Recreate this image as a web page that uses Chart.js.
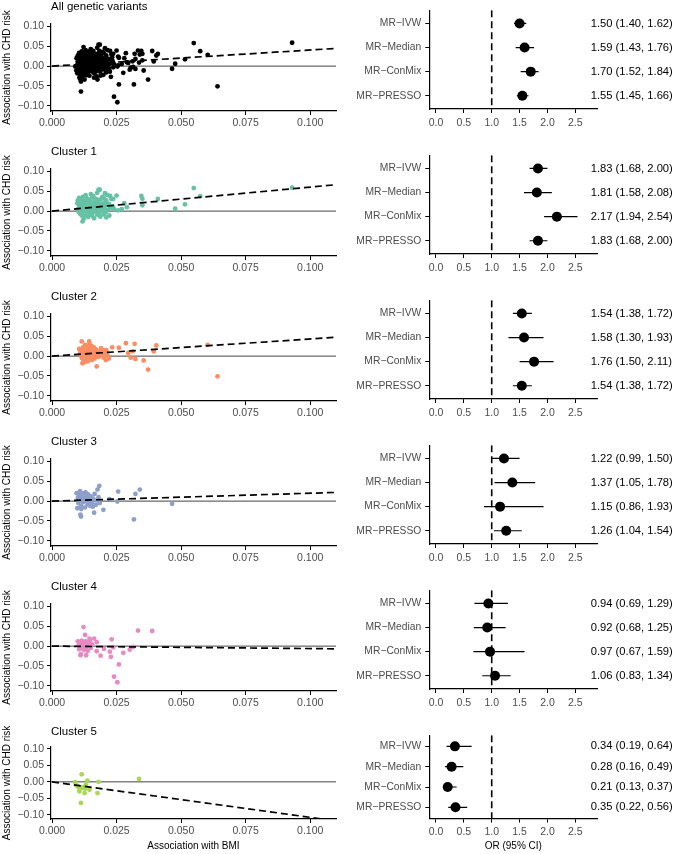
<!DOCTYPE html>
<html>
<head>
<meta charset="utf-8">
<script src="https://cdn.jsdelivr.net/npm/chart.js@4.4.1/dist/chart.umd.min.js"></script>
<style>
  html, body { margin: 0; padding: 0; background: #fff; }
  #wrap { position: relative; width: 680px; height: 854px; }
  #wrap canvas { position: absolute; }
</style>
</head>
<body>
<div id="wrap"></div>
<script>
const panelTitles = ["All genetic variants", "Cluster 1", "Cluster 2", "Cluster 3", "Cluster 4", "Cluster 5"];
const clusterColors = ["#66c2a5", "#fc8d62", "#8da0cb", "#e78ac3", "#a6d854"];
const methods = ["MR\u2212IVW", "MR\u2212Median", "MR\u2212ConMix", "MR\u2212PRESSO"];

// OR (95% CI) per panel, methods in the order above
const orEst = [
  [1.50, 1.59, 1.70, 1.55],
  [1.83, 1.81, 2.17, 1.83],
  [1.54, 1.58, 1.76, 1.54],
  [1.22, 1.37, 1.15, 1.26],
  [0.94, 0.92, 0.97, 1.06],
  [0.34, 0.28, 0.21, 0.35],
];
const orLow = [
  [1.40, 1.43, 1.52, 1.45],
  [1.68, 1.58, 1.94, 1.68],
  [1.38, 1.30, 1.50, 1.38],
  [0.99, 1.05, 0.86, 1.04],
  [0.69, 0.68, 0.67, 0.83],
  [0.19, 0.16, 0.13, 0.22],
];
const orHigh = [
  [1.62, 1.76, 1.84, 1.66],
  [2.00, 2.08, 2.54, 2.00],
  [1.72, 1.93, 2.11, 1.72],
  [1.50, 1.78, 1.93, 1.54],
  [1.29, 1.25, 1.59, 1.34],
  [0.64, 0.49, 0.37, 0.56],
];

// variant associations [BMI, CHD]
const cluster1 = [
  [0.093, 0.0588], [0.0549, 0.058], [0.0574, 0.0375], [0.0515, 0.017], [0.0477, 0.006],
  [0.041, 0.0307], [0.0346, 0.038], [0.035, 0.031], [0.035, 0.0145], [0.028, 0.020],
  [0.029, 0.010], [0.027, 0.005], [0.0256, 0.002], [0.025, 0.039], [0.0237, 0.031],
  [0.0205, 0.045], [0.018, 0.054], [0.0118, -0.026],
  [0.0185, 0.054], [0.0175, 0.046], [0.0150, 0.043], [0.0130, 0.040], [0.0215, 0.040],
  [0.0225, 0.038], [0.0160, 0.038], [0.0120, 0.036], [0.0195, 0.036],
  [0.0105, 0.033], [0.0115, 0.030], [0.0135, 0.032], [0.0145, 0.029], [0.0155, 0.034],
  [0.0170, 0.031], [0.0180, 0.028], [0.0190, 0.030], [0.0200, 0.033], [0.0210, 0.027],
  [0.0230, 0.030], [0.0125, 0.026], [0.0140, 0.025], [0.0165, 0.026], [0.0100, 0.027],
  [0.0098, 0.020], [0.0105, 0.015], [0.0110, 0.022], [0.0112, 0.012], [0.0118, 0.018],
  [0.0122, 0.010], [0.0128, 0.021], [0.0132, 0.015], [0.0138, 0.019], [0.0142, 0.011],
  [0.0148, 0.023], [0.0152, 0.016], [0.0158, 0.013], [0.0162, 0.020], [0.0168, 0.017],
  [0.0172, 0.010], [0.0178, 0.022], [0.0185, 0.014], [0.0192, 0.019], [0.0198, 0.012],
  [0.0205, 0.021], [0.0212, 0.015], [0.0220, 0.018], [0.0235, 0.012], [0.0108, 0.024],
  [0.0126, 0.013],
  [0.0100, 0.005], [0.0103, -0.002], [0.0108, 0.008], [0.0113, 0.002], [0.0117, -0.004],
  [0.0121, 0.006], [0.0125, 0.000], [0.0130, 0.008], [0.0135, 0.003], [0.0139, -0.003],
  [0.0144, 0.006], [0.0150, 0.001], [0.0155, 0.008], [0.0160, -0.002], [0.0166, 0.005],
  [0.0171, 0.000], [0.0177, 0.007], [0.0183, -0.004], [0.0188, 0.004], [0.0195, 0.001],
  [0.0202, 0.006], [0.0208, -0.003], [0.0215, 0.003], [0.0225, 0.007], [0.0240, 0.005],
  [0.0110, -0.008], [0.0118, -0.013], [0.0123, -0.019], [0.0132, -0.010], [0.0140, -0.015],
  [0.0147, -0.007], [0.0156, -0.012], [0.0163, -0.018], [0.0175, -0.009], [0.0187, -0.014],
  [0.0200, -0.008], [0.0210, -0.016], [0.0222, -0.011],
];
const cluster2 = [
  [0.0603, 0.0283], [0.0641, -0.051], [0.0404, 0.0267], [0.0394, 0.0117], [0.0372, -0.034],
  [0.0355, -0.011], [0.032, 0.031], [0.0286, 0.0325], [0.0312, 0.012], [0.0323, -0.007],
  [0.0305, -0.004], [0.0295, 0.008], [0.0259, 0.021], [0.0233, 0.022], [0.0173, -0.026],
  [0.0144, 0.037], [0.0115, 0.037],
  [0.0105, 0.018], [0.0110, 0.010], [0.0112, 0.003], [0.0115, -0.005], [0.0118, 0.014],
  [0.0120, 0.022], [0.0122, -0.012], [0.0125, 0.007], [0.0128, 0.028], [0.0130, 0.000],
  [0.0132, 0.016], [0.0135, -0.008], [0.0137, 0.024], [0.0140, 0.010], [0.0142, 0.003],
  [0.0145, 0.030], [0.0147, -0.003], [0.0150, 0.018], [0.0152, 0.008], [0.0155, -0.010],
  [0.0157, 0.013], [0.0160, 0.002], [0.0162, 0.022], [0.0165, -0.006], [0.0168, 0.011],
  [0.0170, 0.017], [0.0175, 0.004], [0.0180, -0.002], [0.0185, 0.012], [0.0190, 0.020],
  [0.0195, 0.006], [0.0200, -0.004], [0.0205, 0.009], [0.0210, 0.015], [0.0215, 0.002],
  [0.0220, -0.006], [0.0118, -0.018], [0.0127, -0.015], [0.0138, -0.013], [0.0108, 0.005],
  [0.0133, 0.012], [0.0143, 0.019], [0.0148, 0.005], [0.0153, 0.026], [0.0124, 0.015],
  [0.0116, 0.008], [0.0158, -0.001], [0.0188, 0.002], [0.0198, 0.015], [0.0208, -0.010],
  [0.0212, 0.006],
];
const cluster3 = [
  [0.0465, -0.0067], [0.034, 0.029], [0.0323, 0.018], [0.0317, -0.046], [0.0256, 0.024],
  [0.0253, -0.001], [0.0222, 0.005], [0.0199, -0.022], [0.0183, 0.038], [0.0176, 0.029],
  [0.0163, -0.029], [0.0112, -0.039], [0.011, -0.034],
  [0.0095, 0.020], [0.0100, 0.008], [0.0102, -0.005], [0.0105, 0.015], [0.0108, 0.025],
  [0.0110, 0.002], [0.0112, -0.012], [0.0115, 0.010], [0.0118, 0.020], [0.0120, -0.003],
  [0.0122, 0.005], [0.0125, 0.014], [0.0128, -0.016], [0.0130, 0.022], [0.0132, 0.000],
  [0.0135, 0.008], [0.0138, -0.008], [0.0140, 0.017], [0.0145, 0.003], [0.0148, -0.012],
  [0.0150, 0.012], [0.0155, -0.004], [0.0160, 0.006], [0.0165, 0.018], [0.0170, -0.009],
  [0.0175, 0.002], [0.0180, 0.010], [0.0098, -0.018], [0.0113, -0.020], [0.0142, -0.002],
  [0.0158, -0.014], [0.0185, -0.005], [0.0103, 0.000], [0.0127, 0.004],
];
const cluster4 = [
  [0.0388, 0.038], [0.0333, 0.039], [0.0301, -0.009], [0.0314, -0.002], [0.0276, -0.017],
  [0.0259, -0.046], [0.0253, -0.091], [0.0240, -0.077], [0.0231, 0.017], [0.0228, -0.027],
  [0.0224, -0.014], [0.0237, -0.003], [0.0201, -0.007], [0.0188, -0.024], [0.0173, -0.013],
  [0.0173, 0.010], [0.0163, 0.019], [0.0145, 0.019], [0.0132, -0.023], [0.0128, 0.028],
  [0.0122, 0.048], [0.0112, -0.020], [0.0110, -0.023],
  [0.0100, 0.012], [0.0103, 0.002], [0.0105, -0.008], [0.0108, 0.006], [0.0110, -0.003],
  [0.0113, 0.010], [0.0115, 0.014], [0.0118, -0.006], [0.0120, 0.003], [0.0123, 0.008],
  [0.0125, -0.010], [0.0128, 0.000], [0.0130, 0.012], [0.0133, -0.004], [0.0135, 0.005],
  [0.0138, -0.012], [0.0140, 0.009], [0.0143, 0.001], [0.0147, 0.013], [0.0150, -0.005],
  [0.0155, 0.004],
];
const cluster5 = [
  [0.0337, 0.009], [0.018, 0.000], [0.0176, -0.034], [0.0145, -0.024], [0.0137, 0.004],
  [0.0131, -0.009], [0.0126, -0.034], [0.0115, 0.023], [0.0112, -0.064], [0.0106, -0.029],
  [0.0100, -0.014], [0.0094, -0.011], [0.0090, -0.001], [0.0115, -0.018], [0.0128, -0.021],
  [0.0122, -0.016], [0.0104, -0.017],
];
const clusters = [cluster1, cluster2, cluster3, cluster4, cluster5];
const allVariants = [].concat(cluster1, cluster2, cluster3, cluster4, cluster5);

const bmiTicks = [0, 0.025, 0.05, 0.075, 0.1];
const chdTicks = [-0.1, -0.05, 0, 0.05, 0.1];
const orTicks = [0, 0.5, 1, 1.5, 2, 2.5];

const bmiRange = [-0.0004, 0.11];
const chdRange = [-0.113, 0.106];
const orRange = [-0.12, 2.895];
const methodRange = [0.45, 4.55];

const rowTops = [0, 145, 290, 435, 580, 725];

Chart.defaults.font.family = "'Liberation Sans', Arial, Helvetica, sans-serif";
Chart.defaults.color = "#4d4d4d";

function fmt(v, d) {
  return (v < 0 ? "\u2212" : "") + Math.abs(v).toFixed(d);
}

function makeCanvas(left, top, w, h) {
  const c = document.createElement("canvas");
  c.width = w;
  c.height = h;
  c.style.left = left + "px";
  c.style.top = top + "px";
  c.style.width = w + "px";
  c.style.height = h + "px";
  document.getElementById("wrap").appendChild(c);
  return c.getContext("2d");
}

const tickGrid = { display: true, drawOnChartArea: false, drawTicks: true, tickLength: 4, color: "#000", lineWidth: 1 };
const axisBorder = { display: true, color: "#000", width: 1.2 };

// Create scatter panel (left column)
function scatterPanel(row) {
  const last = row === 5;
  const h = last ? 129 : 145;
  const areaTop = last ? 22 : 24;
  const areaBottom = last ? 94 : 111;
  const pts = row === 0 ? allVariants : clusters[row - 1];
  const color = row === 0 ? "#000" : clusterColors[row - 1];
  const slope = Math.log(orEst[row][0]);

  const ctx = makeCanvas(0, rowTops[row], 340, h);
  new Chart(ctx, {
    type: "scatter",
    data: {
      datasets: [
        {
          data: [{ x: 0, y: 0 }, { x: bmiRange[1], y: slope * bmiRange[1] }],
          showLine: true, borderColor: "#000", borderWidth: 1.7, borderDash: [7, 4],
          pointRadius: 0, order: 0,
        },
        {
          data: pts.map((p) => ({ x: p[0], y: p[1] })),
          backgroundColor: color, borderWidth: 0, pointRadius: 2.4, order: 1,
        },
        {
          data: [{ x: bmiRange[0], y: 0 }, { x: bmiRange[1], y: 0 }],
          showLine: true, borderColor: "#444", borderWidth: 1, pointRadius: 0, order: 2,
        },
      ],
    },
    options: {
      responsive: false, animation: false, devicePixelRatio: 1, events: [],
      layout: { padding: { left: 0, right: 3, top: 0, bottom: 0 } },
      plugins: {
        legend: { display: false },
        tooltip: { enabled: false },
        title: {
          display: true, text: panelTitles[row], align: "start", fullSize: false,
          color: "#000", font: { size: 11.5, weight: "normal" },
          padding: { top: 0, bottom: areaTop - 13.8 },
        },
      },
      scales: {
        x: {
          type: "linear", min: bmiRange[0], max: bmiRange[1],
          afterBuildTicks: (axis) => { axis.ticks = bmiTicks.map((v) => ({ value: v })); },
          afterFit: (axis) => { axis.height = h - areaBottom; },
          ticks: { callback: (v) => fmt(v, 3), font: { size: 10.5 }, padding: 2, autoSkip: false, maxRotation: 0 },
          grid: tickGrid, border: axisBorder,
          title: {
            display: last, text: "Association with BMI", color: "#000",
            font: { size: 10 }, padding: { top: 0, bottom: 2 },
          },
        },
        y: {
          type: "linear", min: chdRange[0], max: chdRange[1],
          afterBuildTicks: (axis) => { axis.ticks = chdTicks.map((v) => ({ value: v })); },
          afterFit: (axis) => { axis.width = 51; },
          ticks: { callback: (v) => fmt(v, 2), font: { size: 10.5 }, padding: 3, autoSkip: false },
          grid: tickGrid, border: axisBorder,
          title: {
            display: true, text: "Association with CHD risk", color: "#000",
            font: { size: 10 }, padding: { top: 1, bottom: 0 },
          },
        },
      },
    },
  });
}

// OR (95% CI) text column to the right of the forest panel
const orTextPlugin = {
  id: "orText",
  afterDatasetsDraw(chart) {
    const row = chart.options.plugins.orText.row;
    const yScale = chart.scales.y;
    const ctx = chart.ctx;
    ctx.save();
    ctx.fillStyle = "#000";
    ctx.font = "11.2px 'Liberation Sans', Arial, sans-serif";
    ctx.textAlign = "left";
    ctx.textBaseline = "middle";
    methods.forEach((m, i) => {
      const label = orEst[row][i].toFixed(2) + " (" + orLow[row][i].toFixed(2) + ", " + orHigh[row][i].toFixed(2) + ")";
      ctx.fillText(label, chart.chartArea.right - 6.6, yScale.getPixelForValue(i + 1));
    });
    ctx.restore();
  },
};

// Create forest panel (right column)
function forestPanel(row) {
  const last = row === 5;
  const h = last ? 129 : 145;
  const areaTop = last ? 3 : 2;
  const areaBottom = last ? 93.5 : 109;

  const ciSets = methods.map((m, i) => ({
    data: [{ x: orLow[row][i], y: i + 1 }, { x: orHigh[row][i], y: i + 1 }],
    showLine: true, borderColor: "#000", borderWidth: 1.2, pointRadius: 0, order: 1,
  }));

  const ctx = makeCanvas(340, rowTops[row], 340, h);
  new Chart(ctx, {
    type: "scatter",
    data: {
      datasets: [
        {
          data: methods.map((m, i) => ({ x: orEst[row][i], y: i + 1 })),
          backgroundColor: "#000", borderWidth: 0, pointRadius: 5, order: 0,
        },
        ...ciSets,
        {
          data: [{ x: 1, y: methodRange[0] }, { x: 1, y: methodRange[1] }],
          showLine: true, borderColor: "#000", borderWidth: 1.6, borderDash: [7, 4],
          pointRadius: 0, order: 2,
        },
      ],
    },
    options: {
      responsive: false, animation: false, devicePixelRatio: 1, events: [],
      layout: { padding: { left: 0, right: 82.7, top: areaTop, bottom: 0 } },
      plugins: {
        legend: { display: false },
        tooltip: { enabled: false },
        orText: { row: row },
      },
      scales: {
        x: {
          type: "linear", min: orRange[0], max: orRange[1],
          afterBuildTicks: (axis) => { axis.ticks = orTicks.map((v) => ({ value: v })); },
          afterFit: (axis) => { axis.height = h - areaBottom; },
          ticks: { callback: (v) => v.toFixed(1), font: { size: 10.5 }, padding: 3.5, autoSkip: false, maxRotation: 0 },
          grid: tickGrid, border: axisBorder,
          title: {
            display: last, text: "OR (95% CI)", color: "#000",
            font: { size: 10 }, padding: { top: 0, bottom: 2 },
          },
        },
        y: {
          type: "linear", min: methodRange[0], max: methodRange[1], reverse: true,
          afterBuildTicks: (axis) => { axis.ticks = methods.map((m, i) => ({ value: i + 1 })); },
          afterFit: (axis) => { axis.width = 89.3; },
          ticks: { callback: (v) => methods[v - 1], font: { size: 10.3 }, padding: 4, autoSkip: false },
          grid: tickGrid, border: axisBorder,
        },
      },
    },
    plugins: [orTextPlugin],
  });
}

for (let r = 0; r < 6; r++) {
  scatterPanel(r);
  forestPanel(r);
}
</script>
</body>
</html>
